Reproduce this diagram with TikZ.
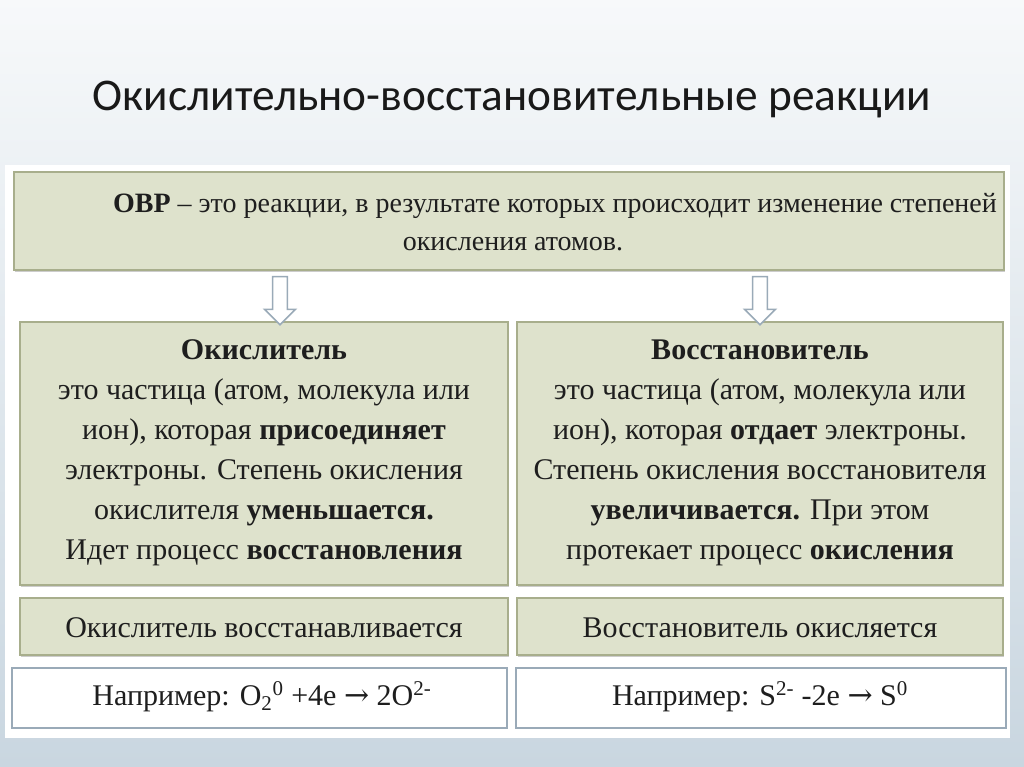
\documentclass[tikz,border=0pt]{standalone}
\usepackage{fontspec}
\setmainfont{Liberation Serif}
\newfontfamily\titlefont{Carlito}
\newfontfamily\symfont{DejaVu Serif}
\usetikzlibrary{shapes.arrows,shadows}
\definecolor{boxfill}{HTML}{DEE2CC}
\definecolor{boxline}{HTML}{A8AE8C}
\definecolor{wline}{HTML}{9AAAB8}
\definecolor{bgc}{HTML}{C9D6E0}
\definecolor{txt}{HTML}{1E1E1E}
\newcommand{\rarr}{{\symfont →}}
\tikzset{
 gbox/.style={draw=boxline,fill=boxfill,line width=1pt,drop shadow={shadow xshift=1pt,shadow yshift=-1.5pt,opacity=0.4}},
 wbox/.style={draw=wline,fill=white,line width=1pt},
 body/.style={text=txt,font=\fontsize{22.5}{30}\selectfont,align=center},
 harrow/.style={single arrow,draw=wline,fill=white,line width=1.2pt,shape border rotate=270,minimum height=36pt,minimum width=23pt,single arrow head extend=5pt,single arrow tip angle=90,inner sep=4pt}
}
\begin{document}
\begin{tikzpicture}[x=0.75pt,y=-0.75pt]
\useasboundingbox (0,0) rectangle (1024,767);
\shade[top color=white!85!bgc,bottom color=bgc] (0,0) rectangle (1024,767);
\fill[white] (5,165) rectangle (1010,738);
\node[font=\titlefont\fontsize{34}{40}\selectfont,text=black!90] (title) at (512,100) {Окислительно-восстановительные реакции};
\path[gbox] (14,172) rectangle (1004,270);
\node[body,font=\fontsize{21}{30}\selectfont] (def1) at (555,206) {\textbf{ОВР} – это реакции, в результате которых происходит изменение степеней};
\node[body,font=\fontsize{21}{30}\selectfont] (def2) at (513,244) {окисления атомов.};
\path[gbox] (20,322) rectangle (508,585);
\path[gbox] (517,322) rectangle (1003,585);
\node[body] (ox) at (264,453) {\textbf{Окислитель}\\это частица (атом, молекула или\\ион), которая \textbf{присоединяет}\\электроны. Степень окисления\\окислителя \textbf{уменьшается.}\\Идет процесс \textbf{восстановления}};
\node[body] (red) at (760,453) {\textbf{Восстановитель}\\это частица (атом, молекула или\\ион), которая \textbf{отдает} электроны.\\Степень окисления восстановителя\\\textbf{увеличивается.} При этом\\протекает процесс \textbf{окисления}};
\path[gbox] (20,598) rectangle (508,655);
\path[gbox] (517,598) rectangle (1003,655);
\node[body] (ox2) at (264,628) {Окислитель восстанавливается};
\node[body] (red2) at (760,628) {Восстановитель окисляется};
\path[wbox] (12,668) rectangle (507,728);
\path[wbox] (516,668) rectangle (1006,728);
\node[body] (ox3) at (262,697) {Например: O\textsubscript{2}\textsuperscript{0} +4e \rarr{} 2O\textsuperscript{2-}};
\node[body] (red3) at (760,697) {Например: S\textsuperscript{2-} -2e \rarr{} S\textsuperscript{0}};
\node[harrow] (a1) at (280,297) {};
\node[harrow] (a2) at (760,297) {};
\end{tikzpicture}
\end{document}
